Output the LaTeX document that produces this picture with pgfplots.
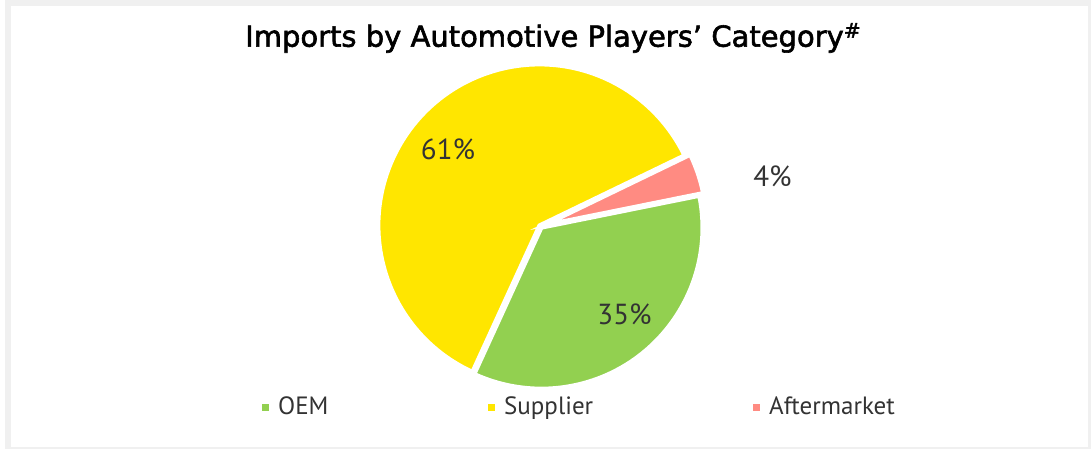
\documentclass[border=0pt]{standalone}
\usepackage{pgfplots}
\pgfplotsset{compat=1.18}
\usepackage{fontspec}
\setmainfont{PT Sans}
\newfontfamily\titlefont[FakeBold=2]{DejaVu Sans}
\usetikzlibrary{calc}
\definecolor{eyyellow}{HTML}{FFE600}
\definecolor{oemgreen}{HTML}{92D050}
\definecolor{aftpink}{HTML}{FF8B82}
\definecolor{txtgray}{HTML}{333333}
\definecolor{bordergray}{HTML}{F0F0F0}

% data (percent)
\def\vOEM{35}\def\vSup{61}\def\vAft{4}
\pgfmathsetmacro\sO{11.4}
\pgfmathsetmacro\eO{\sO-3.6*\vOEM}
\pgfmathsetmacro\eS{\eO-3.6*\vSup}
\pgfmathsetmacro\eA{\eS-3.6*\vAft}
\pgfmathsetmacro\mO{(\sO+\eO)/2}
\pgfmathsetmacro\mS{(\eO+\eS)/2}
\pgfmathsetmacro\mA{(\eS+\eA)/2}
\def\R{161bp}

\begin{document}
\begin{tikzpicture}
\begin{axis}[x=1bp,y=1bp,xmin=0,xmax=1091,ymin=0,ymax=449,
  hide axis,clip=false,scale only axis]
\fill[white] (axis cs:0,0) rectangle (axis cs:1091,449);
\fill[bordergray] (axis cs:5,0) rectangle (axis cs:1091,449);
\fill[white] (axis cs:11,2) rectangle (axis cs:1088,443);
% slices
\fill[oemgreen,draw=white,line width=4bp,line join=miter]
  ($(axis cs:540.5,222.5)+(\mO:1.5bp)$) -- ++(\sO:\R) arc[start angle=\sO,end angle=\eO,radius=\R] -- cycle;
\fill[eyyellow,draw=white,line width=4bp,line join=miter]
  ($(axis cs:540.5,222.5)+(\mS:1.5bp)$) -- ++(\eO:\R) arc[start angle=\eO,end angle=\eS,radius=\R] -- cycle;
\fill[aftpink,draw=white,line width=4bp,line join=miter]
  ($(axis cs:540.5,222.5)+(\mA:5bp)$) -- ++(\eS:\R) arc[start angle=\eS,end angle=\eA,radius=\R] -- cycle;
% data labels
\node[anchor=base,text=txtgray,font=\fontsize{29bp}{34bp}\selectfont] at (axis cs:448,289) {61\%};
\node[anchor=base,text=txtgray,font=\fontsize{29bp}{34bp}\selectfont] at (axis cs:624.5,124) {35\%};
\node[anchor=base,text=txtgray,font=\fontsize{29bp}{34bp}\selectfont] at (axis cs:772.5,262) {4\%};
% title
\node[anchor=base west,inner sep=0pt,font=\titlefont\fontsize{29bp}{36bp}\selectfont] at (axis cs:245,402.3) {Imports by Automotive Players’ Category\textsuperscript{\#}};
% legend
\addplot[only marks,mark=square*,mark size=3bp,color=oemgreen,mark options={line width=0.1bp}] coordinates {(265,42)};
\addplot[only marks,mark=square*,mark size=3bp,color=eyyellow,mark options={line width=0.1bp}] coordinates {(491,42)};
\addplot[only marks,mark=square*,mark size=3bp,color=aftpink,mark options={line width=0.1bp}] coordinates {(756,42)};
\node[anchor=base west,inner sep=0pt,text=txtgray,font=\fontsize{25bp}{30bp}\selectfont] at (axis cs:278,34) {OEM};
\node[anchor=base west,inner sep=0pt,text=txtgray,font=\fontsize{25bp}{30bp}\selectfont] at (axis cs:504,34) {Supplier};
\node[anchor=base west,inner sep=0pt,text=txtgray,font=\fontsize{25bp}{30bp}\selectfont] at (axis cs:769,34) {Aftermarket};
\end{axis}
\end{tikzpicture}
\end{document}
